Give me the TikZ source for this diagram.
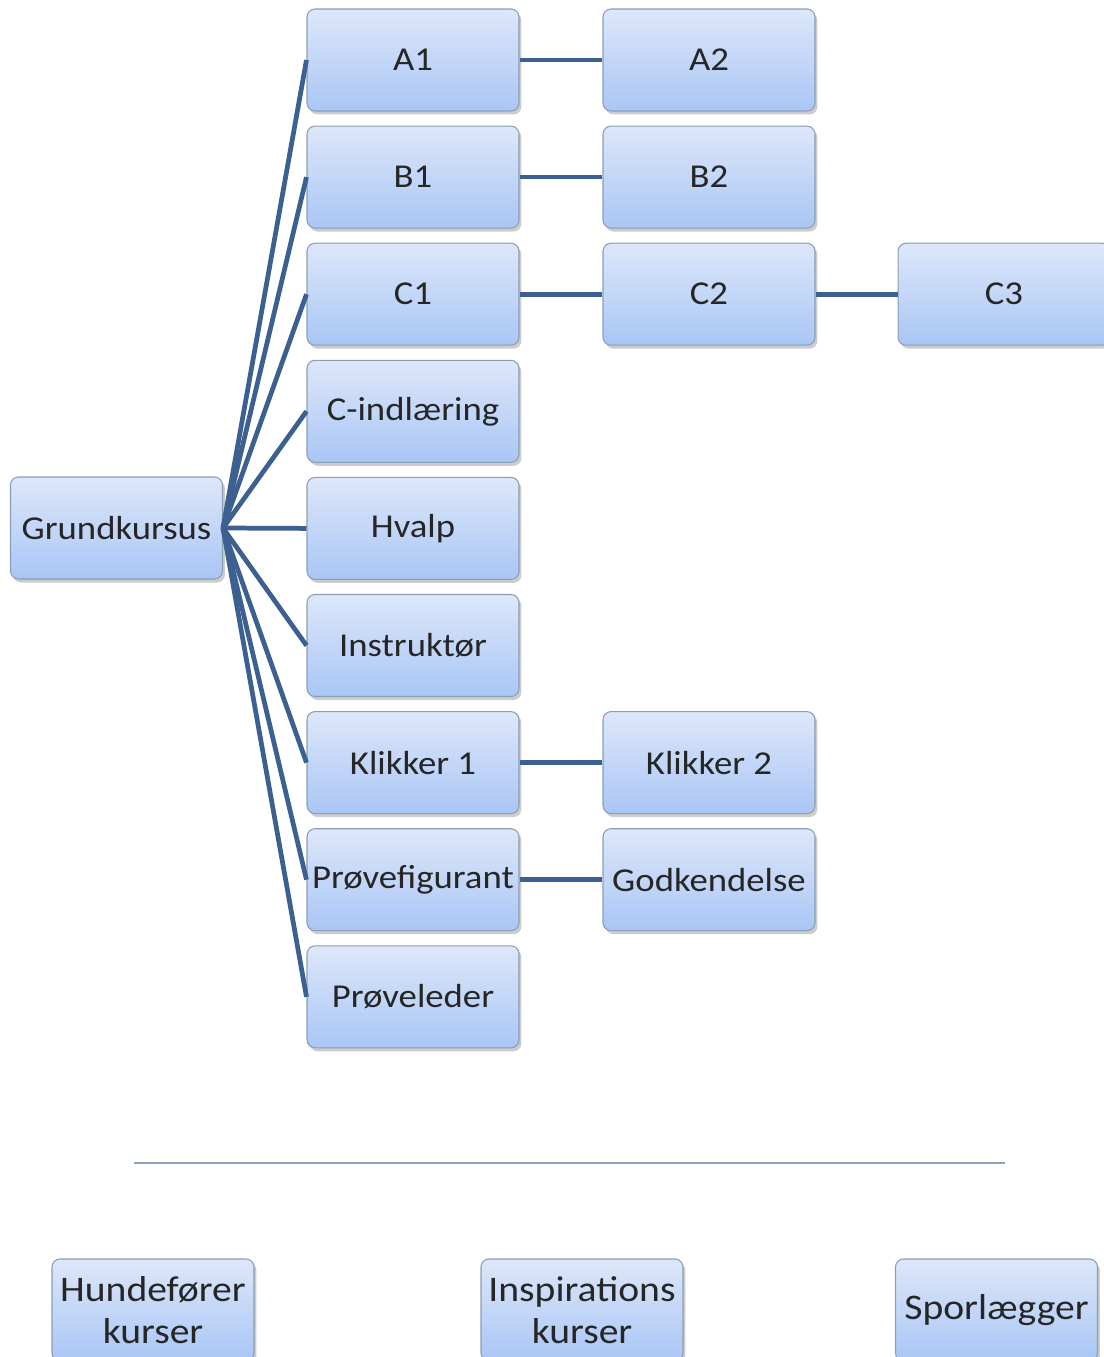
\documentclass[tikz,border=0pt]{standalone}
\usepackage{fontspec}
\setmainfont{Carlito}[FakeStretch=1.1]
\usetikzlibrary{shadows}
\definecolor{boxtop}{HTML}{DDE7F9}
\definecolor{boxbot}{HTML}{A9C6F5}
\definecolor{boxline}{HTML}{8C9DB6}
\definecolor{linkblue}{HTML}{3C6190}
\definecolor{rulegrey}{HTML}{8EA2BE}

\begin{document}
\begin{tikzpicture}[x=0.02cm, y=-0.02cm,
    kursus/.style={draw=boxline, line width=0.6pt, rounded corners=0.16cm,
      top color=boxtop, bottom color=boxbot, minimum width=4.24cm,
      minimum height=2.04cm, inner sep=0pt, text=black!85,
      drop shadow={opacity=0.4, shadow xshift=0.05cm, shadow yshift=-0.07cm},
      font=\fontsize{19}{22}\selectfont},
    bundkursus/.style={kursus, minimum width=4.04cm, align=center,
      font=\fontsize{20.5}{24}\selectfont},
    link/.style={linkblue, line width=2.7pt}]
    \useasboundingbox (0,0) rectangle (1104,1357);
    \def\d{117.1};
    % venstre kolonne
    \node [kursus] (grund) at (116.5,528) {Grundkursus};
    \foreach \navn/\tekst [count=\i from 0] in {a1/A1, b1/B1, c1/C1, cind/C-indl\ae ring,
      hvalp/Hvalp, instr/Instrukt\o r, klik1/Klikker 1, fig/Pr\o vefigurant, leder/Pr\o veleder}
    {
      \node [kursus] (\navn) at (413,60+\d*\i) {\tekst};
      \draw [link] (grund.east) -- (\navn.west);
    }
    % anden og tredje kolonne
    \node [kursus] (a2) at (709,60) {A2};
    \node [kursus] (b2) at (709,60+\d) {B2};
    \node [kursus] (c2) at (709,60+2*\d) {C2};
    \node [kursus] (c3) at (1004,60+2*\d) {C3};
    \node [kursus] (klik2) at (709,60+6*\d) {Klikker 2};
    \node [kursus] (godk) at (709,60+7*\d) {Godkendelse};
    \draw [link] (a1) -- (a2);
    \draw [link] (b1) -- (b2);
    \draw [link] (c1) -- (c2) -- (c3);
    \draw [link] (klik1) -- (klik2);
    \draw [link] (fig) -- (godk);
    % skillelinje og kurser forneden
    \coordinate (streg1) at (134,1163);
    \coordinate (streg2) at (1005,1163);
    \draw [rulegrey, line width=1.1pt] (streg1) -- (streg2);
    \node [bundkursus] (hunde) at (153,1310) {Hundef\o rer\\kurser};
    \node [bundkursus] (insp) at (582,1310) {Inspirations\\kurser};
    \node [bundkursus] (spor) at (996.5,1310) {Sporl\ae gger};
  \end{tikzpicture}
\end{document}
